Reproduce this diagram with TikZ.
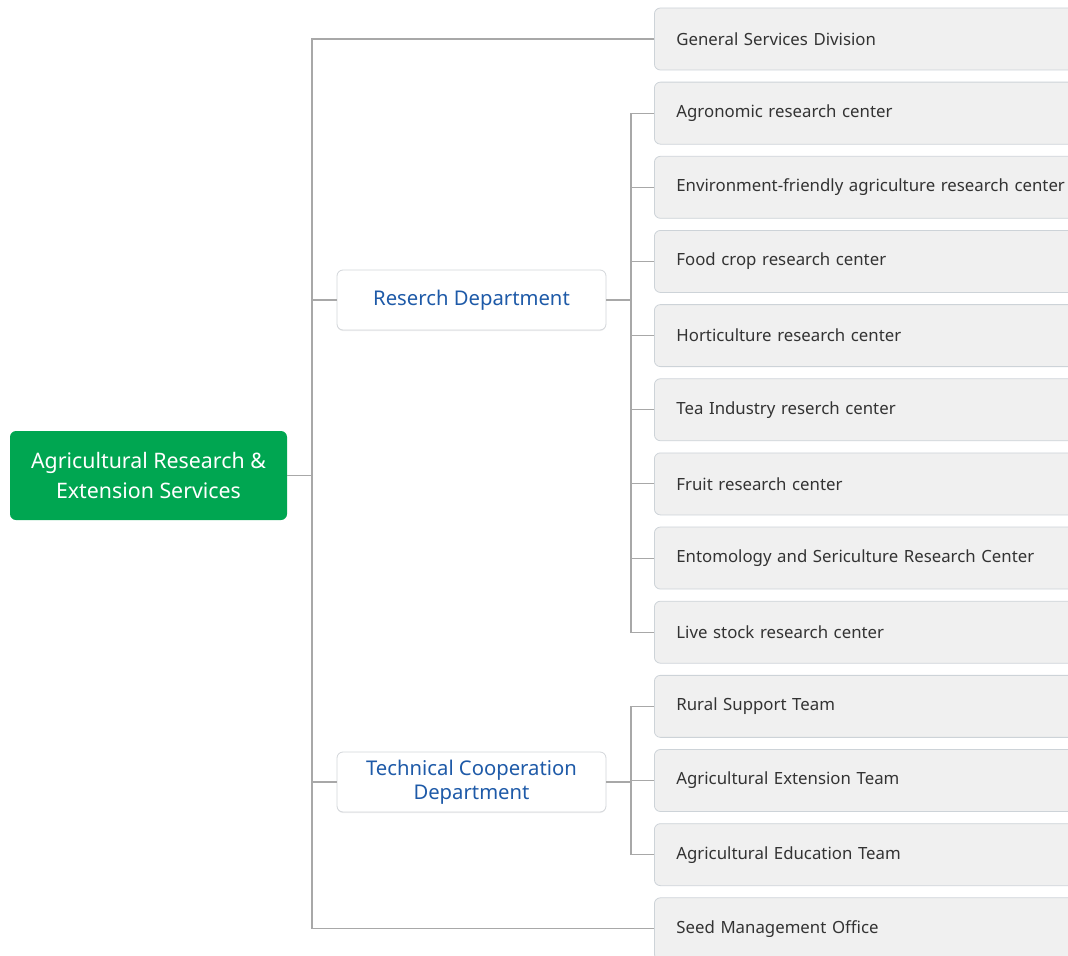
\documentclass[tikz,border=0pt]{standalone}
\usepackage{fontspec}
\setmainfont{Noto Sans}
\usetikzlibrary{positioning,shadows}
\definecolor{orggreen}{HTML}{00A651}
\definecolor{deptblue}{HTML}{1E5AA8}
\definecolor{leaffill}{HTML}{F0F0F0}
\definecolor{leafline}{HTML}{CDD3D8}
\definecolor{deptline}{HTML}{D3D6DA}
\definecolor{linkgray}{HTML}{A8A8A8}
\definecolor{leaftext}{HTML}{333333}
\tikzset{
  rootbox/.style={fill=orggreen, text=white, rounded corners=4.5pt,
    minimum width=207.75pt, minimum height=66.75pt, align=center,
    font=\fontsize{16}{22.5}\selectfont},
  deptbox/.style={draw=deptline, fill=white, text=deptblue, rounded corners=4.5pt,
    line width=0.6pt, minimum width=201.75pt, minimum height=45pt, align=center,
    drop shadow={opacity=0.12, shadow xshift=0pt, shadow yshift=-0.8pt},
    font=\fontsize{15.2}{18}\selectfont},
  leafbox/.style={draw=leafline, fill=leaffill, text=leaftext, rounded corners=4.5pt,
    line width=0.6pt, anchor=west, minimum height=46.5pt, inner xsep=16.5pt,
    text width=297pt, align=left, font=\fontsize{12.6}{15}\selectfont},
  link/.style={draw=linkgray, line width=0.8pt}
}

\begin{document}
\begin{tikzpicture}[x=0.75pt,y=-0.75pt]
\useasboundingbox (0,0) rectangle (1068,956);
\clip (0,0) rectangle (1068,956);

% main boxes
\node[rootbox] (root) at (148.5,475.5) {Agricultural Research \&\\Extension Services};
\node[deptbox] (resdept) at (471.5,300) {Reserch Department};
\node[deptbox] (techdept) at (471.5,782) {Technical Cooperation\\Department};

% right column
\foreach \name/\i/\txt in {gsd/0/General Services Division,
    agro/1/Agronomic research center,
    env/2/Environment-friendly agriculture research center,
    food/3/Food crop research center,
    hort/4/Horticulture research center,
    tea/5/Tea Industry reserch center,
    fruit/6/Fruit research center,
    ento/7/Entomology and Sericulture Research Center,
    live/8/Live stock research center,
    rural/9/Rural Support Team,
    ext/10/Agricultural Extension Team,
    edu/11/Agricultural Education Team,
    seed/12/Seed Management Office}
  \node[leafbox] (\name) at (654,{39+74.15*\i}) {\txt};

% connectors
\coordinate (trunk) at (312,0);
\coordinate (rbus) at (631,0);
\draw[link] (root.east) -- (root.east -| trunk);
\draw[link] (gsd.west) -| (seed.west -| trunk) -- (seed.west);
\draw[link] (resdept.west) -- (resdept.west -| trunk);
\draw[link] (techdept.west) -- (techdept.west -| trunk);

\draw[link] (resdept.east) -- (resdept.east -| rbus);
\draw[link] (agro.west) -| (live.west -| rbus) -- (live.west);
\foreach \n in {env,food,hort,tea,fruit,ento}
  \draw[link] (\n.west) -- (\n.west -| rbus);

\draw[link] (techdept.east) -- (techdept.east -| rbus);
\draw[link] (rural.west) -| (edu.west -| rbus) -- (edu.west);
\draw[link] (ext.west) -- (ext.west -| rbus);
\end{tikzpicture}
\end{document}
